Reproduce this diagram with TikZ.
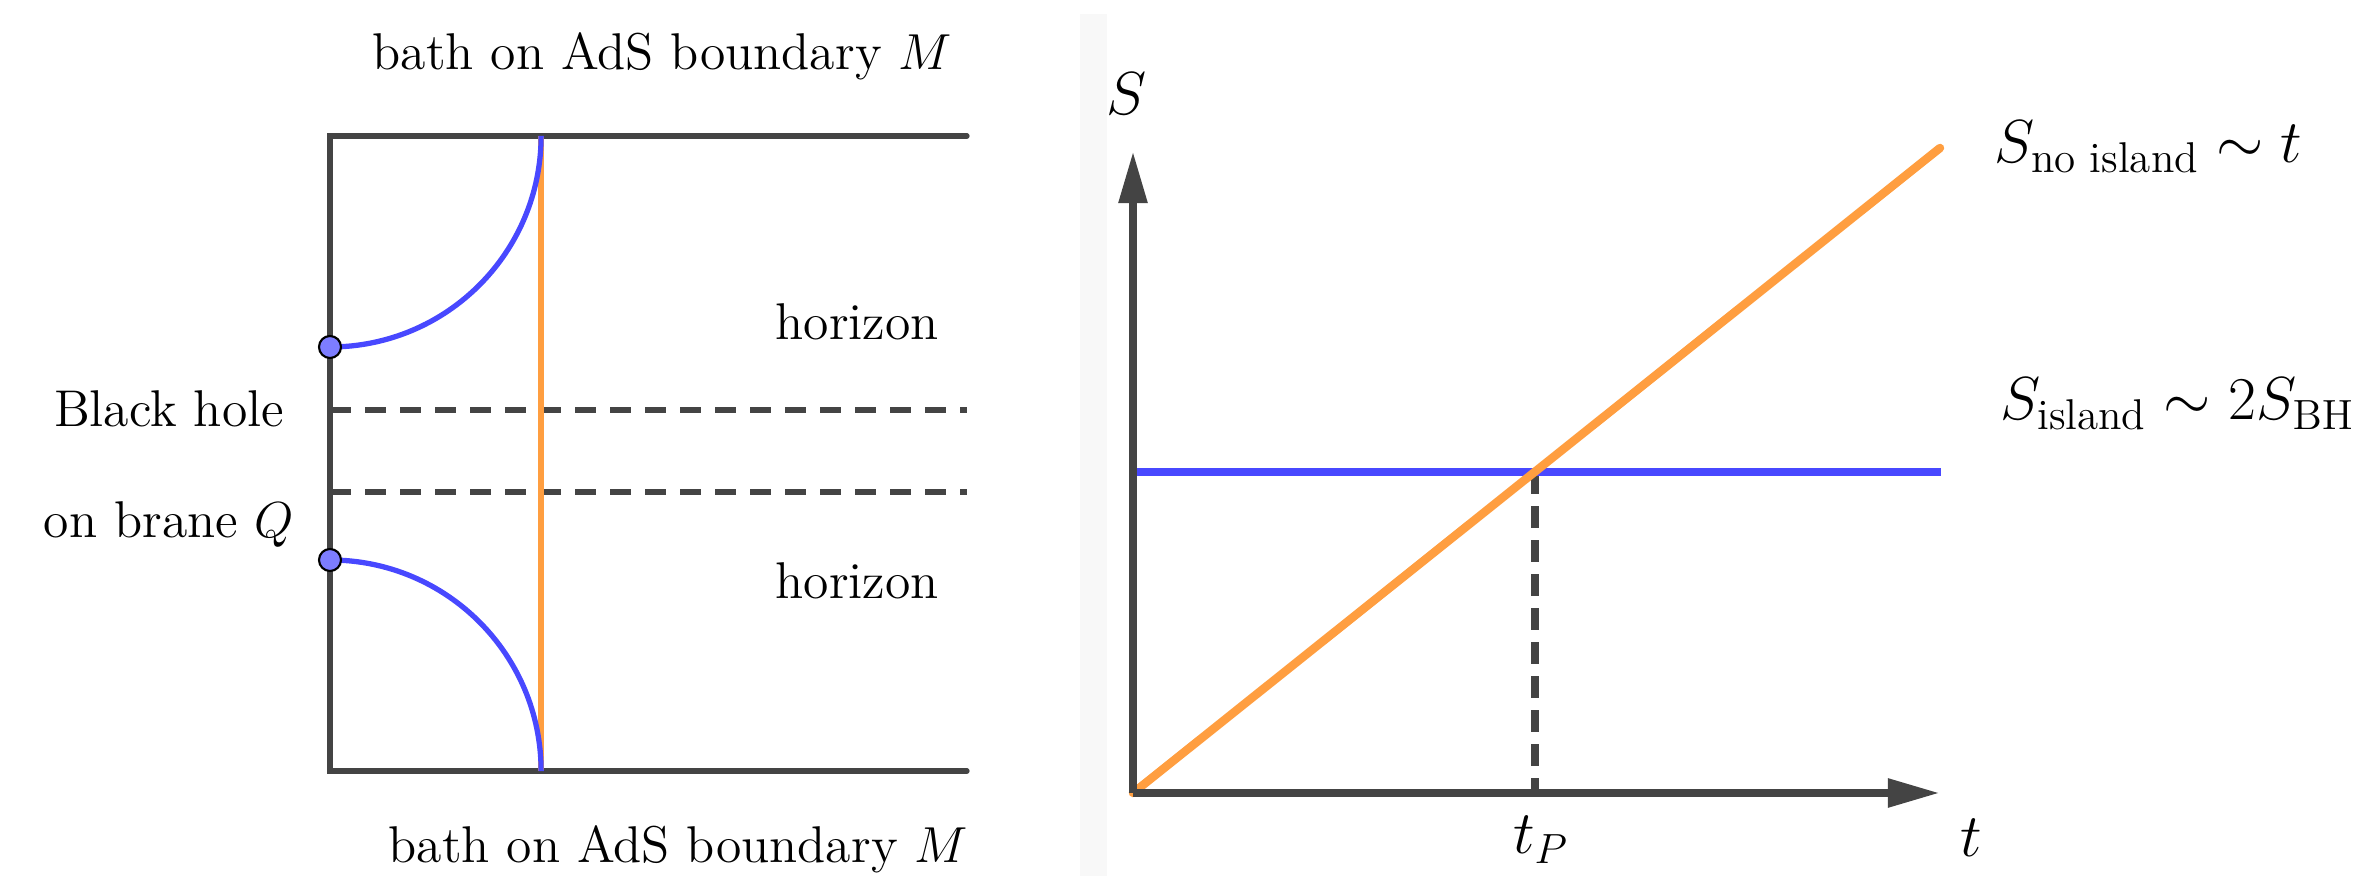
\documentclass[tikz,border=0pt]{standalone}
\usepackage{amsmath}
\usetikzlibrary{arrows.meta,positioning}
\definecolor{AxisGray}{RGB}{68,68,68}
\definecolor{CurveBlue}{RGB}{72,72,255}
\definecolor{LineOrange}{RGB}{255,158,64}
\definecolor{DotBlue}{RGB}{125,125,255}
\definecolor{StripGray}{RGB}{248,248,248}
\tikzset{
  wall/.style={AxisGray,line width=1.5pt,line cap=round},
  hzdash/.style={AxisGray,line width=1.5pt,dash pattern=on 0.21cm off 0.14cm},
  rtsurf/.style={CurveBlue,line width=1.5pt},
  eow/.style={LineOrange,line width=1.5pt},
  brdot/.style={circle,draw=black,fill=DotBlue,line width=0.6pt,
                minimum size=0.22cm,inner sep=0pt},
  ltxt/.style={font=\fontsize{14.7}{17}\selectfont,inner sep=0pt},
  rtxt/.style={font=\fontsize{17.5}{21}\selectfont,inner sep=0pt},
  axis/.style={-{Triangle[length=0.52cm,width=0.27cm]},AxisGray,line width=2.4pt},
  page/.style={LineOrange,line width=2.4pt,line cap=round},
  island/.style={CurveBlue,line width=2.4pt},
  tpdash/.style={AxisGray,line width=2.4pt,dash pattern=on 0.22cm off 0.12cm},
}
\begin{document}
\begin{tikzpicture}[x=0.01cm,y=0.01cm]
  \useasboundingbox (0,0) rectangle (2354,876);
  \fill[StripGray] (1080,0) rectangle (1107,862);

  % left panel: bath, brane and horizons
  \coordinate (tl) at (330,740);
  \coordinate (bl) at (330,105);
  \coordinate (tr) at (967,740);
  \coordinate (br) at (967,105);
  \coordinate (et) at (541,740);
  \coordinate (eb) at (541,105);
  \coordinate (h1l) at (330,466);
  \coordinate (h1r) at (967,466);
  \coordinate (h2l) at (330,384);
  \coordinate (h2r) at (967,384);
  \draw[wall] (tr) -- (tl) -- (bl) -- (br);
  \draw[hzdash] (h1l) -- (h1r);
  \draw[hzdash] (h2l) -- (h2r);
  \draw[eow] (et) -- (eb);
  \draw[rtsurf] (330,529) arc[start angle=270,end angle=360,radius=2.11cm];
  \draw[rtsurf] (330,316) arc[start angle=90,end angle=0,radius=2.11cm];
  \node[brdot] (q1) at (330,529) {};
  \node[brdot] (q2) at (330,316) {};

  \node[ltxt,anchor=base west] (bathtop) at (372,806) {bath on AdS boundary $M$};
  \node[ltxt,anchor=base west] (bathbot) at (388,13) {bath on AdS boundary $M$};
  \node[ltxt,anchor=base west] (hz1) at (775,536) {horizon};
  \node[ltxt,anchor=base west] (hz2) at (775,277) {horizon};
  \node[ltxt,anchor=base] (bh) at (169,449) {Black hole};
  \node[ltxt,anchor=base,below=0.74cm of bh.base] (brane) {on brane $Q$};

  % right panel: Page curve
  \coordinate (O) at (1133,83);
  \coordinate (ytip) at (1133,725);
  \coordinate (xtip) at (1940,83);
  \coordinate (pend) at (1940,728);
  \coordinate (il) at (1133,404);
  \coordinate (ir) at (1941,404);
  \coordinate (tp) at (1535,404);
  \coordinate (tp0) at (1535,83);
  \draw[tpdash] (tp) -- (tp0);
  \draw[island] (il) -- (ir);
  \draw[page] (O) -- (pend);
  \draw[axis] (O) -- (ytip);
  \draw[axis] (O) -- (xtip);

  \node[rtxt] (Slab) at (1127,782) {$S$};
  \node[rtxt,anchor=base] (tlab) at (1971,19) {$t$};
  \node[rtxt,anchor=base] (tplab) at (1541,22) {$t_P$};
  \node[rtxt,anchor=base west] (noisl) at (1994,713) {$S_{\text{no island}}\sim t$};
  \node[rtxt,anchor=base west] (isl) at (2000,456) {$S_{\text{island}}\sim 2S_{\mathrm{BH}}$};
\end{tikzpicture}
\end{document}
